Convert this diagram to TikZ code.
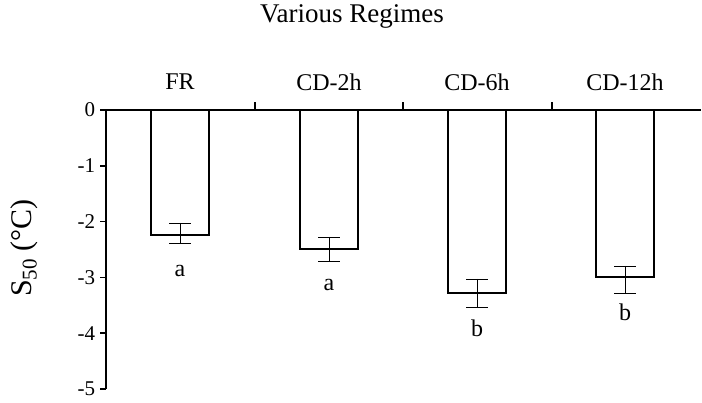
\documentclass[tikz,border=0pt]{standalone}
\usepackage{fontspec}
\setmainfont{Liberation Serif}
\begin{document}
\begin{tikzpicture}[x=1pt,y=-1pt,line width=1.6pt,
  bar/.style={draw=black,fill=white,line width=1.8pt},
  err/.style={line width=0.9pt},
  lab/.style={font=\fontsize{24}{24}\selectfont,inner sep=0pt},
  tk/.style={font=\fontsize{21}{21}\selectfont,inner sep=0pt},
  let/.style={font=\fontsize{24}{24}\selectfont,inner sep=0pt}]
\useasboundingbox (0,0) rectangle (702,403);
\node[font=\fontsize{27}{27}\selectfont] (title) at (352,16) {Various Regimes};
% axes
\coordinate (o) at (106,110);
\coordinate (yb) at (106,389);
\coordinate (xe) at (701,110);
\draw (yb) -- (o) -- (xe);
\foreach \i in {0,...,5} {
  \pgfmathsetmacro\yy{110+55.8*\i}
  \draw (100,\yy) -- (106,\yy);
  \node[tk,anchor=east] (t\i) at (96,\yy) {\ifnum\i=0 0\else -\i\fi};
}
\foreach \x in {255,403,552} \draw (\x,110) -- (\x,102);
\foreach \n/\c/\t in {c1/180/FR,c2/329/CD-2h,c3/477/CD-6h,c4/625/CD-12h}
  \node[lab] (\n) at (\c,82) {\t};
% bars
\foreach \c/\b/\lo/\hi/\ly/\l [count=\k] in {180/235/223/243/271/a,329/249/237/261/285/a,477/293/279/307/328/b,625/277/266/293/312/b} {
  \draw[bar] (\c-29,110) rectangle (\c+29,\b);
  \draw[err] (\c,\lo) -- (\c,\hi) (\c-11,\lo) -- (\c+11,\lo) (\c-11,\hi) -- (\c+11,\hi);
  \node[let] (l\k) at (\c,\ly) {\l};
}
\node[rotate=90,font=\fontsize{30}{30}\selectfont] (ylab) at (24,248) {S\textsubscript{50} (°C)};
\end{tikzpicture}
\end{document}
